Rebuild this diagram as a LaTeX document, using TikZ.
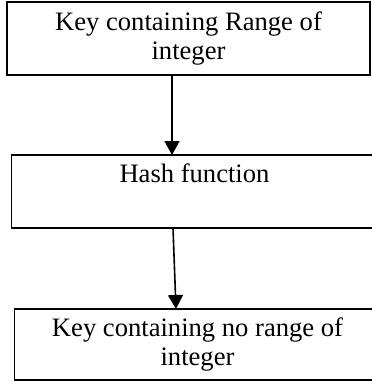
\documentclass[tikz,border=0pt]{standalone}
\usepackage{fontspec}
\setmainfont{Liberation Serif}
\usetikzlibrary{positioning,arrows.meta}

\begin{document}
\begin{tikzpicture}[x=1pt,y=1pt,>={Triangle[length=14pt,width=15pt]},
    box/.style={draw,line width=1.7pt,outer sep=0pt,align=center,font=\fontsize{26.6}{29.5}\selectfont,minimum width=363pt,minimum height=73pt,inner sep=0pt},
    flow/.style={->,line width=1.6pt}]
    \clip (0,0) rectangle (372,-383);
    \node[box] (rangekey) at (188.5,-38.5) {Key containing Range of\\integer};
    \node[box,below=80pt of rangekey,xshift=6pt,minimum width=366pt,text height=27pt,text depth=46pt] (hashfn) {Hash function};
    \node[box,below=81pt of hashfn,xshift=3pt,minimum width=366pt,minimum height=71pt] (norangekey) {Key containing no range of\\integer};
    \draw[flow] ([xshift=-16.5pt]rangekey.south) -- ([xshift=-22.5pt]hashfn.north);
    \draw[flow] ([xshift=-21.5pt]hashfn.south) -- ([xshift=-21.5pt]norangekey.north);
  \end{tikzpicture}
\end{document}
